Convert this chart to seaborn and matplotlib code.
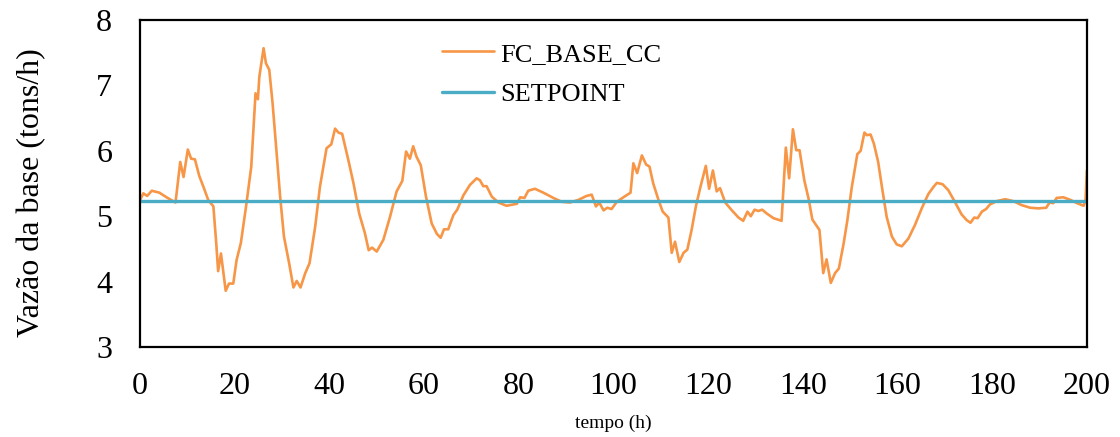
import numpy as np
import pandas as pd
import seaborn as sns
import matplotlib.pyplot as plt

# === Data ===
hours = [0.1, 0.7, 1.5, 2.5, 4.1, 5.6, 7.5, 8.5, 9.2, 10.1, 10.8, 11.6, 12.5, 13.5, 14.4,
         15.5, 16.1, 16.5, 17.1, 18.1, 18.8, 19.7, 20.4, 21.3, 22.4, 23.5, 24.4, 24.9, 25.2,
         26.1, 26.6, 27.3, 28.0, 28.7, 29.6, 30.4, 31.5, 32.4, 33.1, 33.9, 34.9, 35.8, 37.0,
         38.0, 39.4, 40.4, 41.2, 41.9, 42.7, 44.0, 45.1, 46.3, 47.5, 48.3, 49.0, 50.0, 51.4,
         52.8, 54.2, 55.4, 56.2, 57.0, 57.7, 58.4, 59.3, 60.4, 61.6, 62.7, 63.5, 64.2, 65.1,
         66.2, 67.0, 68.3, 69.7, 71.1, 71.8, 72.5, 73.2, 74.3, 75.7, 77.4, 79.6, 80.3, 81.2,
         82.0, 83.4, 85.2, 87.3, 89.1, 90.8, 92.6, 94.3, 95.4, 96.3, 97.0, 97.9, 98.7, 99.6,
         100.7, 102.1, 103.6, 104.2, 105.0, 106.0, 106.9, 107.6, 108.4, 109.5, 110.4, 111.6,
         112.3, 113.0, 113.9, 114.8, 115.6, 116.5, 117.4, 118.3, 119.5, 120.2, 121.0, 121.8,
         122.5, 123.6, 125.0, 126.4, 127.4, 128.3, 129.0, 129.8, 130.6, 131.4, 132.4, 133.8,
         135.5, 136.4, 137.1, 137.9, 138.6, 139.3, 140.3, 141.2, 142.0, 143.5, 144.3, 145.0,
         145.9, 146.8, 147.6, 148.6, 149.4, 150.3, 151.5, 152.2, 153.0, 153.5, 154.3, 155.0,
         155.9, 156.8, 157.7, 158.8, 159.8, 160.9, 162.3, 163.7, 165.1, 166.5, 167.6, 168.3,
         169.5, 170.7, 172.1, 173.5, 174.6, 175.4, 176.2, 176.9, 177.8, 178.7, 179.5, 180.9,
         182.7, 184.5, 186.2, 188.0, 189.7, 191.4, 192.1, 192.9, 193.6, 195.0, 196.5, 197.9,
         199.3, 199.7, 200.0]
fc_base_cc = [5.26, 5.35, 5.31, 5.39, 5.36, 5.29, 5.21, 5.83, 5.60, 6.02, 5.88, 5.87, 5.62, 5.43, 5.25,
              5.15, 4.59, 4.16, 4.43, 3.86, 3.97, 3.97, 4.33, 4.59, 5.15, 5.76, 6.88, 6.79, 7.13,
              7.57, 7.34, 7.24, 6.73, 6.11, 5.30, 4.69, 4.28, 3.91, 4.01, 3.91, 4.13, 4.28, 4.84,
              5.45, 6.04, 6.10, 6.34, 6.28, 6.26, 5.86, 5.50, 5.04, 4.74, 4.48, 4.52, 4.46, 4.64,
              4.99, 5.38, 5.54, 5.99, 5.88, 6.07, 5.91, 5.78, 5.30, 4.89, 4.73, 4.67, 4.80, 4.80,
              5.02, 5.10, 5.32, 5.48, 5.58, 5.55, 5.46, 5.46, 5.30, 5.21, 5.16, 5.19, 5.29, 5.28,
              5.39, 5.42, 5.36, 5.28, 5.22, 5.21, 5.25, 5.31, 5.33, 5.15, 5.21, 5.09, 5.13, 5.11,
              5.22, 5.29, 5.36, 5.81, 5.66, 5.93, 5.79, 5.76, 5.50, 5.25, 5.07, 4.98,
              4.44, 4.61, 4.30, 4.44, 4.49, 4.79, 5.15, 5.43, 5.77, 5.42, 5.70, 5.38,
              5.43, 5.21, 5.09, 4.98, 4.93, 5.07, 5.00, 5.10, 5.08, 5.10, 5.04, 4.97,
              4.93, 6.05, 5.58, 6.33, 6.01, 6.01, 5.55, 5.27, 4.95, 4.79, 4.13, 4.34,
              3.98, 4.13, 4.20, 4.58, 4.94, 5.43, 5.95, 6.00, 6.28, 6.24, 6.25, 6.11,
              5.83, 5.40, 4.99, 4.69, 4.57, 4.54, 4.66, 4.87, 5.12, 5.34, 5.45, 5.51,
              5.49, 5.40, 5.22, 5.03, 4.94, 4.90, 4.98, 4.97, 5.07, 5.11, 5.18, 5.23,
              5.26, 5.23, 5.17, 5.13, 5.12, 5.13, 5.21, 5.20, 5.28, 5.29, 5.25, 5.20,
              5.16, 5.25, 5.70]
setpoint_hours = [0, 200]
setpoint = [5.24, 5.24]
x_ticks = [0, 20, 40, 60, 80, 100, 120, 140, 160, 180, 200]
y_ticks = [3, 4, 5, 6, 7, 8]

sns.set_style("white")
plt.rcParams['font.family'] = ['Liberation Serif', 'DejaVu Serif']
plt.rcParams['text.color'] = 'black'
plt.rcParams['axes.labelcolor'] = 'black'
plt.rcParams['xtick.color'] = 'black'
plt.rcParams['ytick.color'] = 'black'

fig = plt.figure(figsize=(11.2, 4.37), dpi=100)
ax = fig.add_axes([0.125, 0.206, 0.8455, 0.748])

sns.lineplot(x=hours, y=fc_base_cc, ax=ax, color="#F79646", linewidth=1.9, label="FC_BASE_CC")
sns.lineplot(x=setpoint_hours, y=setpoint, ax=ax, color="#4BACC6", linewidth=2.4, label="SETPOINT")

ax.set_xlim(0, 200)
ax.set_ylim(3, 8)
ax.set_xticks(x_ticks)
ax.set_yticks(y_ticks)
ax.tick_params(axis="both", labelsize=23, length=0)
ax.tick_params(axis="x", pad=18)
ax.tick_params(axis="y", pad=20)
for spine in ax.spines.values():
    spine.set_color("black")
    spine.set_linewidth(1.6)

ax.set_xlabel("tempo (h)", fontsize=14, labelpad=10)
ax.set_ylabel("Vazão da base (tons/h)", fontsize=23, labelpad=36, y=0.472)

ax.legend(loc="upper left", bbox_to_anchor=(0.294, 1.005), frameon=False, fontsize=19,
          handlelength=1.97, handletextpad=0.23, labelspacing=0.65)

plt.savefig("out.png", dpi=100)
